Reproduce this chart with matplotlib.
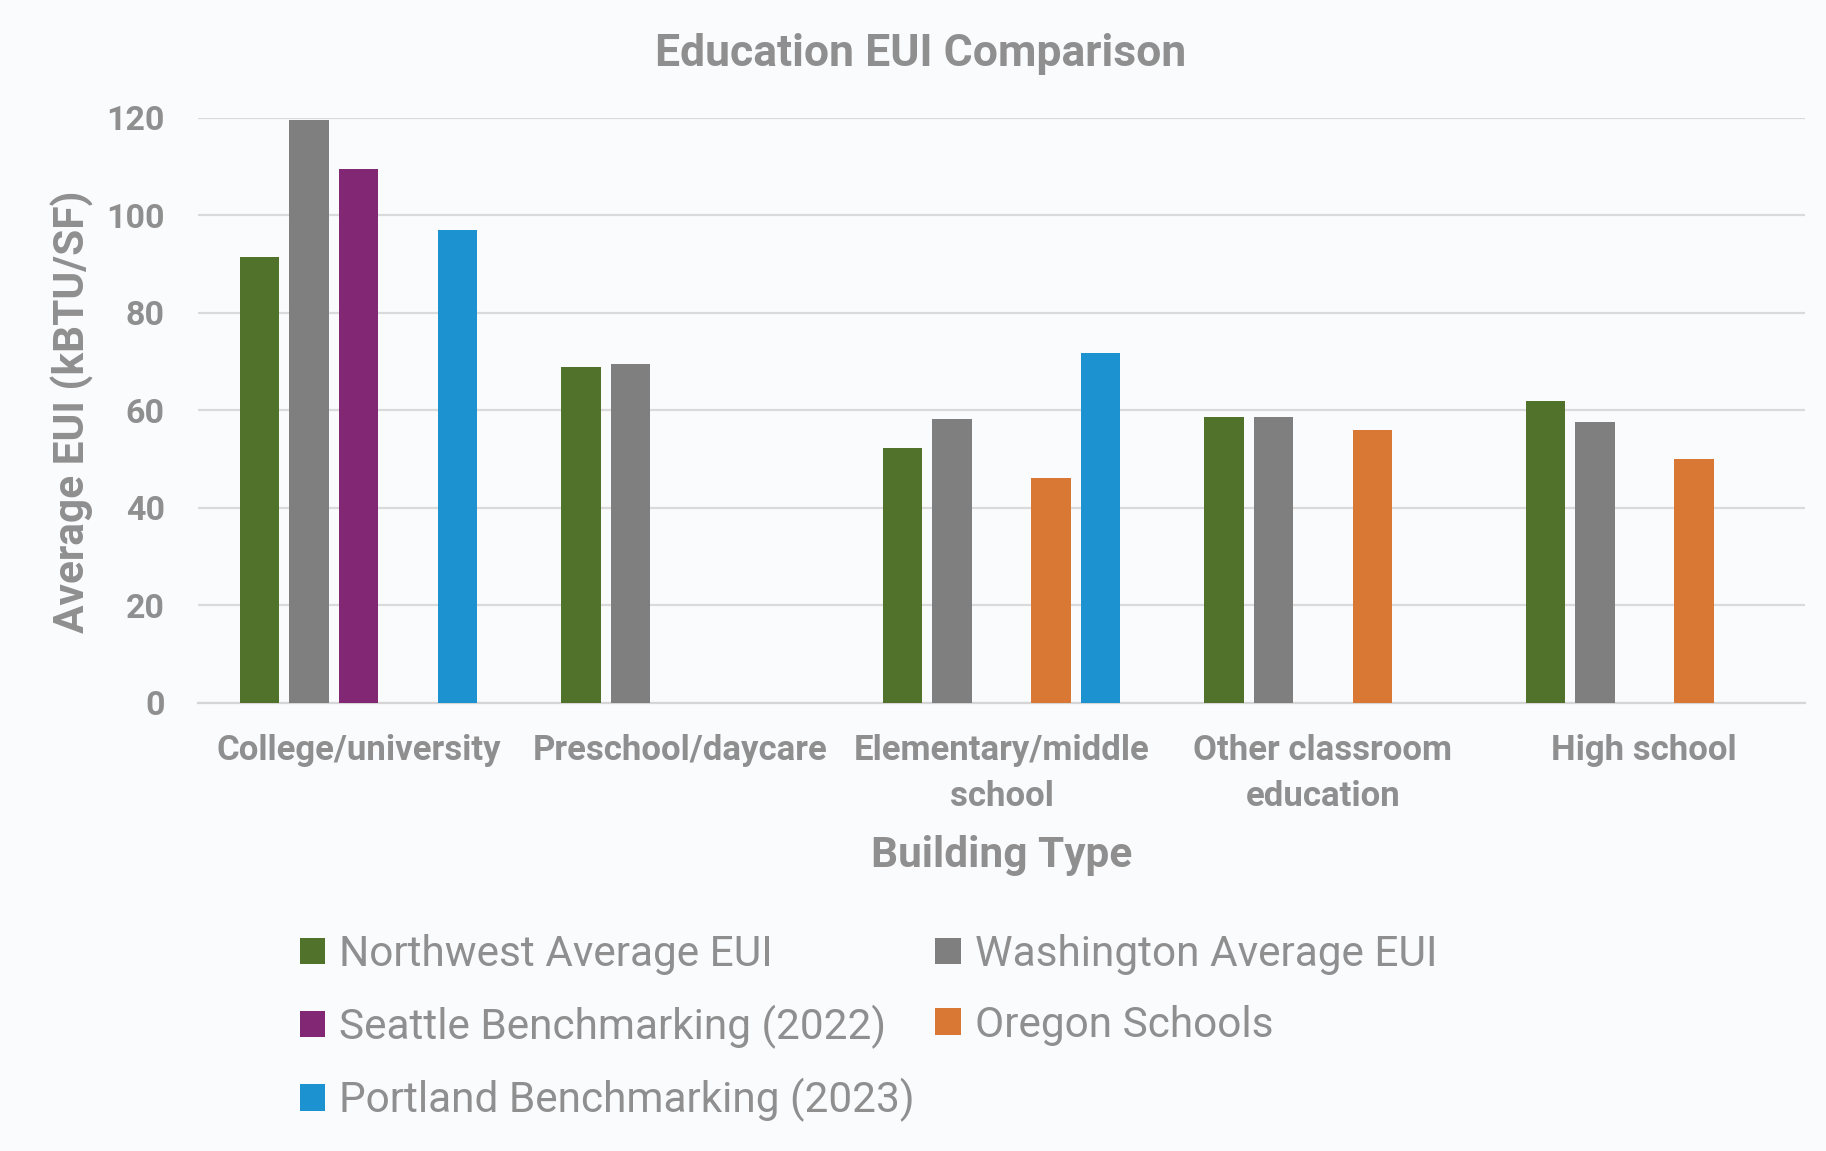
import matplotlib
matplotlib.use("Agg")
import matplotlib.pyplot as plt
import numpy as np

# Average EUI (kBTU/SF) by education building type
categories = ["College/university", "Preschool/daycare", "Elementary/middle\nschool",
              "Other classroom\neducation", "High school"]
northwest = [91.4, 68.8, 52.3, 58.6, 61.8]
washington = [119.6, 69.4, 58.2, 58.6, 57.5]
seattle = [109.5, np.nan, np.nan, np.nan, np.nan]
oregon = [np.nan, np.nan, 46.0, 56.0, 49.9]
portland = [97.0, np.nan, 71.7, np.nan, np.nan]

series = [
    ("Northwest Average EUI", northwest, "#50722a"),
    ("Washington Average EUI", washington, "#7f7f7f"),
    ("Seattle Benchmarking (2022)", seattle, "#812774"),
    ("Oregon Schools", oregon, "#d97834"),
    ("Portland Benchmarking (2023)", portland, "#1c93d0"),
]

text_color = "#8f8f8f"
bg = "#fafbfd"
font = ["Roboto", "DejaVu Sans"]

W, H = 1826, 1151
fig = plt.figure(figsize=(W / 100, H / 100), dpi=100, facecolor=bg)
ax = fig.add_axes([198 / W, 1 - 702.5 / H, (1805 - 198) / W, (702.5 - 118) / H])
ax.set_facecolor(bg)

x = np.arange(len(categories))
width = 0.123
pitch = 0.154
bars = []
for i, (name, vals, color) in enumerate(series):
    b = ax.bar(x + (i - 2) * pitch, vals, width, color=color, label=name, zorder=3)
    bars.append(b)

ax.set_xlim(-0.5, len(categories) - 0.5)
ax.set_ylim(0, 120)
ax.set_yticks(np.arange(0, 121, 20))
ax.grid(axis="y", color="#dadada", linewidth=1.6, zorder=0)
for s in ["top", "right", "left"]:
    ax.spines[s].set_visible(False)
ax.spines["bottom"].set_color("#d6d6d6")
ax.spines["bottom"].set_linewidth(1.6)
ax.tick_params(length=0)
ax.tick_params(axis="y", pad=24)
ax.tick_params(axis="x", pad=23)
ax.set_xticks(x)
ax.set_xticklabels(categories, linespacing=1.48)
for lab in ax.get_xticklabels():
    lab.set_fontsize(25)
for lab in ax.get_yticklabels():
    lab.set_fontsize(24.5)
for lab in ax.get_xticklabels() + ax.get_yticklabels():
    lab.set_family(font)
    lab.set_fontweight("bold")
    lab.set_color(text_color)

fig.text(0.504, 1 - 54 / H, "Education EUI Comparison", ha="center", va="center",
         fontsize=32, fontweight="bold", color=text_color, family=font)
fig.text(1002 / W, 1 - 855 / H, "Building Type", ha="center", va="center",
         fontsize=30.5, fontweight="bold", color=text_color, family=font)
fig.text(72 / W, 1 - 412 / H, "Average EUI (kBTU/SF)", ha="center", va="center",
         rotation=90, fontsize=30.5, fontweight="bold", color=text_color, family=font)

# legend laid out row by row: matplotlib fills columns first
order = [0, 2, 4, 1, 3]
leg = fig.legend([bars[i] for i in order], [series[i][0] for i in order],
                 loc="upper left", bbox_to_anchor=(283 / W, 1 - 917 / H), ncol=2,
                 frameon=False, handlelength=0.6, handleheight=0.6, handletextpad=0.33,
                 columnspacing=0.48, labelspacing=0.7, borderaxespad=0,
                 prop={"family": font, "size": 30.5})
for t in leg.get_texts():
    t.set_color(text_color)

fig.savefig("out.png", dpi=100, facecolor=bg)
